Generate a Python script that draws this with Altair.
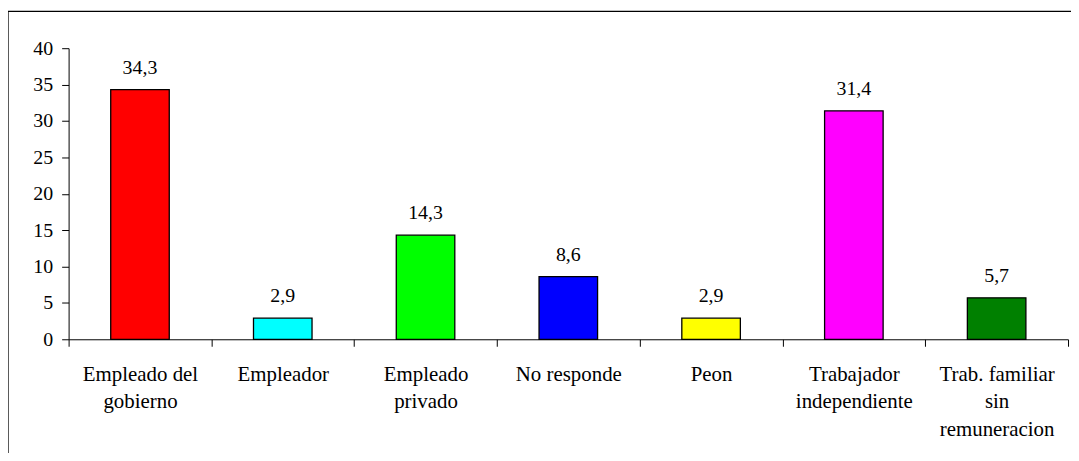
import altair as alt
import pandas as pd

categories = [
    "Empleado del|gobierno",
    "Empleador",
    "Empleado|privado",
    "No responde",
    "Peon",
    "Trabajador|independiente",
    "Trab. familiar|sin|remuneracion",
]
values = [34.3, 2.9, 14.3, 8.6, 2.9, 31.4, 5.7]
colors = ["#FF0000", "#00FFFF", "#00FF00", "#0000FF", "#FFFF00", "#FF00FF", "#008000"]
y_ticks = [0, 5, 10, 15, 20, 25, 30, 35, 40]

df = pd.DataFrame({"cat": categories, "v": values, "color": colors})

W, H = 1006, 293
FONT = "Liberation Serif"

x_enc = alt.X(
    "cat:N",
    sort=categories,
    scale=alt.Scale(paddingInner=0, paddingOuter=0),
    axis=alt.Axis(
        title=None,
        labelAngle=0,
        labelExpr="split(datum.label, '|')",
        labelFontSize=21,
        labelLineHeight=28,
        labelPadding=17,
        tickBand="extent",
        labelBaseline="top",
    ),
)
y_enc = alt.Y(
    "v:Q",
    scale=alt.Scale(domain=[0, 40], nice=False),
    axis=alt.Axis(
        title=None,
        values=y_ticks,
        grid=False,
        labelOverlap=False,
        labelPadding=9,
    ),
)

bars = alt.Chart(df).mark_bar(
    width=alt.RelativeBandSize(0.41), stroke="black", strokeWidth=1.3
).encode(
    x=x_enc,
    y=y_enc,
    color=alt.Color("color:N", scale=None),
)

text = alt.Chart(df).transform_calculate(
    lab="replace(format(datum.v, '.1f'), '.', ',')"
).mark_text(
    font=FONT, fontSize=20, color="black", baseline="alphabetic", dy=-16
).encode(
    x=x_enc,
    y=y_enc,
    text="lab:N",
)

frame = alt.Chart(df.head(1)).mark_rect(
    fill=None, stroke="black", strokeWidth=1.3
).encode(
    x=alt.value(-61), x2=alt.value(W + 20),
    y=alt.value(-37), y2=alt.value(H + 140),
)

chart = alt.layer(frame, bars, text).properties(
    width=W,
    height=H,
    autosize=alt.AutoSizeParams(type="none"),
    padding={"left": 61, "top": 39, "right": 3, "bottom": 113},
    background="white",
).configure(
    font=FONT
).configure_axis(
    labelFont=FONT,
    labelFontSize=20,
    labelColor="black",
    tickSize=7,
    tickColor="black",
    domainColor="black",
).configure_text(
    font=FONT
).configure_view(stroke=None)

chart.save("out.html", embed_options={"renderer": "svg", "actions": False})
